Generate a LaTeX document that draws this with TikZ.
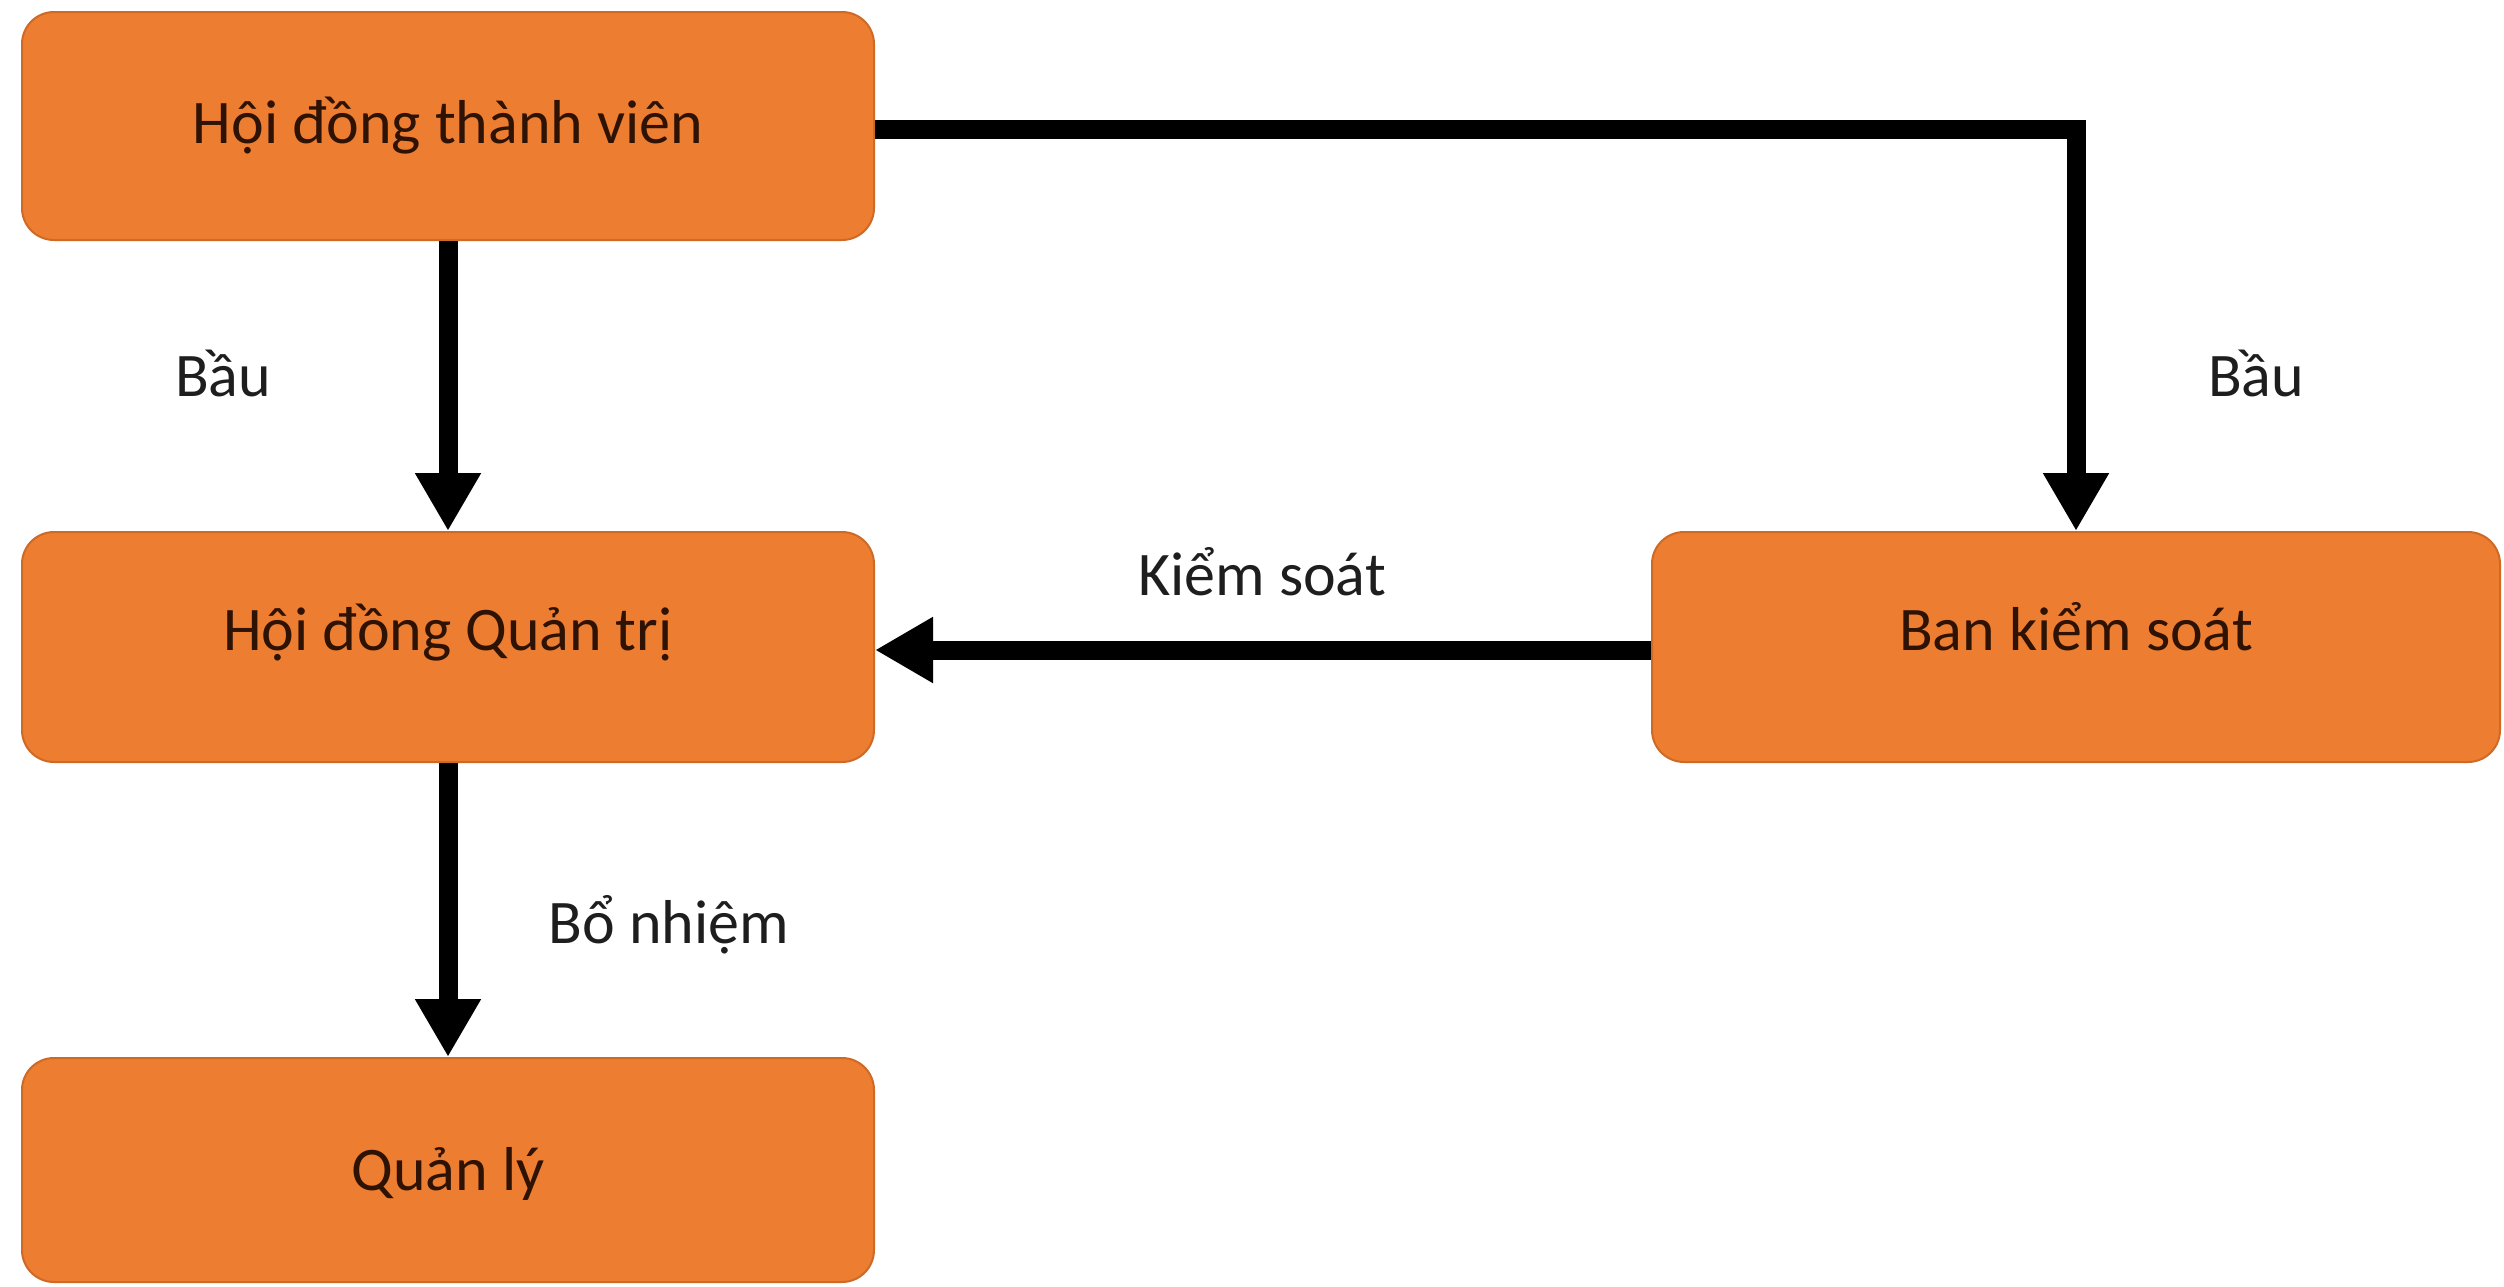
\documentclass[tikz,border=0pt]{standalone}
\usepackage{fontspec}
\setmainfont{Carlito}
\usetikzlibrary{arrows.meta}
\definecolor{boxfill}{HTML}{ED7D31}
\definecolor{boxline}{HTML}{CF6A26}
\definecolor{boxtext}{HTML}{2E1204}
\definecolor{labeltext}{HTML}{1E1E1E}
\tikzset{
  orgbox/.style={rectangle, rounded corners=32pt, fill=boxfill, draw=boxline, line width=2pt,
    minimum width=852pt, minimum height=228pt, inner sep=0pt, text=boxtext,
    font=\fontsize{62}{74}\selectfont},
  conn/.style={line width=19pt, -{Triangle[width=62pt,length=58pt]}, black},
  lbl/.style={anchor=base, inner sep=0pt, text=labeltext, font=\fontsize{62}{74}\selectfont}
}
\begin{document}
\begin{tikzpicture}[x=1pt,y=-1pt]
\useasboundingbox (0,0) rectangle (2504,1286);
\node[orgbox, text height=40pt, text depth=6pt] (b1) at (448,126) {Hội đồng thành viên};
\node[orgbox, text height=12pt, text depth=6pt, minimum height=230pt] (b2) at (448,647) {Hội đồng Quản trị};
\node[orgbox, text height=46pt, text depth=6pt, minimum height=224pt] (b3) at (448,1170) {Quản lý};
\node[orgbox, text height=12pt, text depth=6pt, minimum width=848pt, minimum height=230pt] (b4) at (2076,647) {Ban kiểm soát};

\draw[conn] (b1.south) -- (b2.north);
\draw[conn] (b2.south) -- (b3.north);
\draw[conn, line join=miter] ([yshift=-3pt]b1.east) -| (b4.north);
\draw[conn] ([yshift=-3pt]b4.west) -- ([yshift=-3pt]b2.east);

\node[lbl] (l1) at (223,396) {Bầu};
\node[lbl] (l2) at (2256,396) {Bầu};
\node[lbl] (l3) at (1262,595) {Kiểm soát};
\node[lbl] (l4) at (669,943) {Bổ nhiệm};
\end{tikzpicture}
\end{document}
